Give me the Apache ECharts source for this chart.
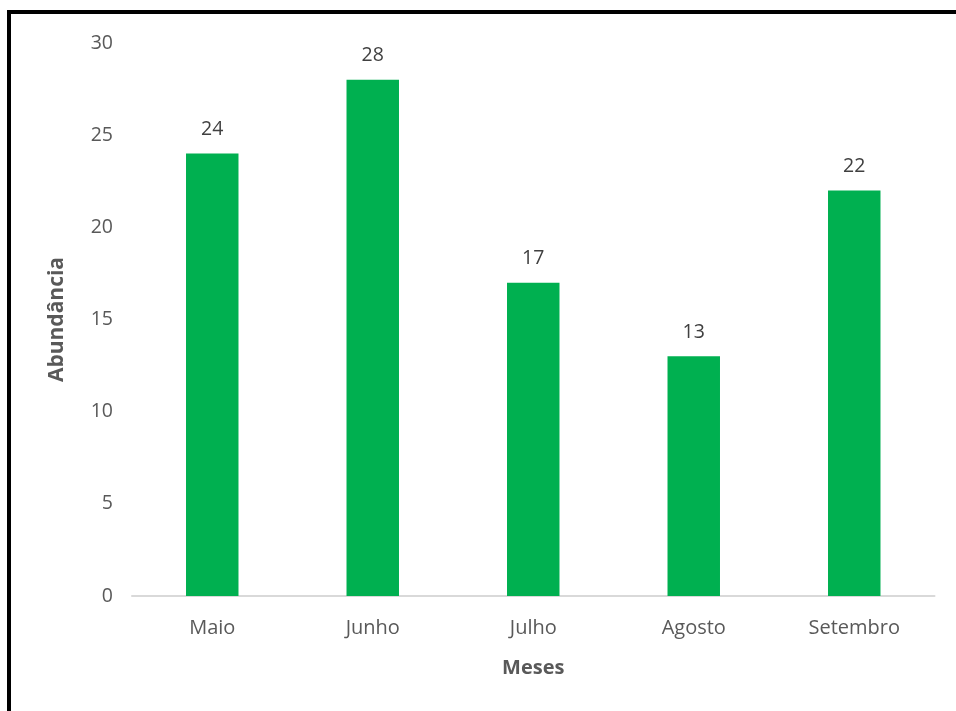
<!DOCTYPE html>
<html><head><meta charset="utf-8">
<script src="https://cdn.jsdelivr.net/npm/echarts@6/dist/echarts.min.js"></script>
<style>html,body{margin:0;padding:0;background:#fff;}
#frame{position:absolute;left:7px;top:10px;width:960px;height:720px;border-left:4px solid #000;border-top:4px solid #000;box-sizing:border-box;}
#c{position:absolute;left:0;top:0;width:956px;height:711px;}</style>
</head><body>
<div id="frame"></div>
<div id="c"></div>
<script>
const categories = ['Maio','Junho','Julho','Agosto','Setembro'];
const values = [24, 28, 17, 13, 22];
const yTicks = [0, 5, 10, 15, 20, 25, 30];
const chart = echarts.init(document.getElementById('c'));
const font = '"Open Sans", "Noto Sans", sans-serif';
chart.setOption({
  animation: false,
  grid: {left: 132, right: 21.5, top: 43, bottom: 115, containLabel: false},
  xAxis: {
    type: 'category', data: categories,
    axisLine: {show: true, lineStyle: {color: '#d9d9d9', width: 2}},
    axisTick: {show: false},
    axisLabel: {color: '#595959', fontSize: 20, fontFamily: font, margin: 22},
    name: 'Meses', nameLocation: 'middle', nameGap: 62,
    nameTextStyle: {color: '#595959', fontSize: 20, fontWeight: 'bold', fontFamily: font}
  },
  yAxis: {
    type: 'value', min: yTicks[0], max: yTicks[yTicks.length-1], interval: 5,
    splitLine: {show: false},
    axisLine: {show: false}, axisTick: {show: false},
    axisLabel: {color: '#595959', fontSize: 19.5, fontFamily: font, margin: 19},
    name: 'Abundância', nameLocation: 'middle', nameGap: 64,
    nameTextStyle: {color: '#595959', fontSize: 21, fontWeight: 'bold', fontFamily: font}
  },
  series: [{
    type: 'bar', data: values, barWidth: '32.7%',
    itemStyle: {color: '#00b050'},
    label: {show: true, position: 'top', distance: 14, color: '#404040', fontSize: 19.5, fontFamily: font}
  }]
});
</script>
</body></html>
